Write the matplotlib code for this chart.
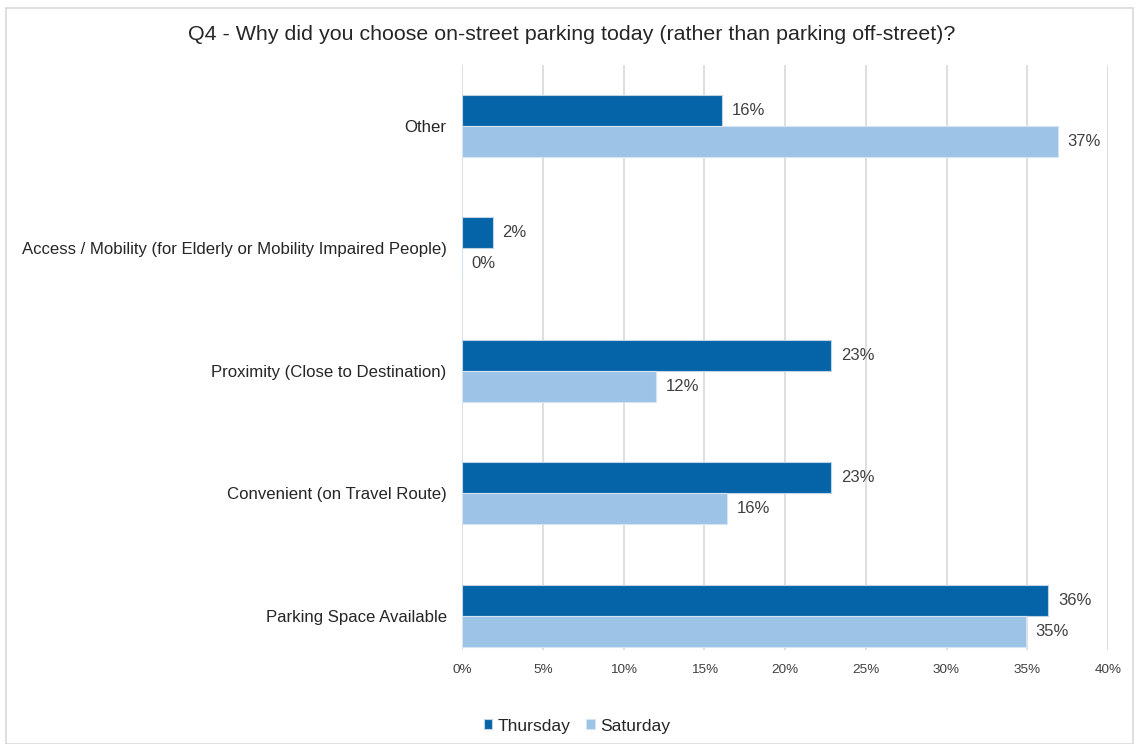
import matplotlib.pyplot as plt
import numpy as np
from matplotlib.patches import Rectangle

plt.rcParams['font.family'] = ['Liberation Sans', 'DejaVu Sans']

categories = ['Parking Space Available', 'Convenient (on Travel Route)',
              'Proximity (Close to Destination)',
              'Access / Mobility (for Elderly or Mobility Impaired People)', 'Other']
thursday = [36.3, 22.85, 22.85, 1.9, 16.1]
saturday = [34.9, 16.4, 12.0, 0.0, 36.9]
thursday_labels = ['36%', '23%', '23%', '2%', '16%']
saturday_labels = ['35%', '16%', '12%', '0%', '37%']
xticks = [0, 5, 10, 15, 20, 25, 30, 35, 40]

fig = plt.figure(figsize=(11.39, 7.44), dpi=100)
ax = fig.add_axes([462 / 1139, 1 - 650 / 744, (1108 - 462) / 1139, (650 - 65) / 744])

# outer frame
fig.patches.append(Rectangle((6 / 1139, 0.0), 1 - 12 / 1139, 1 - 8 / 744,
                             transform=fig.transFigure, fill=False,
                             edgecolor='#d9d9d9', linewidth=1.2))

y = np.arange(len(categories))
h = 0.253
c_thu = '#0563a8'
c_sat = '#9dc3e6'

ax.barh(y + h / 2, thursday, height=h, color=c_thu, edgecolor='#bfd3e6', linewidth=0.8,
        label='Thursday', zorder=3)
ax.barh(y - h / 2, saturday, height=h, color=c_sat, edgecolor='#d5e4f2', linewidth=0.8,
        label='Saturday', zorder=3)

for i in range(len(categories)):
    ax.text(thursday[i] + 0.6, y[i] + h / 2, thursday_labels[i], va='center', ha='left',
            fontsize=12, color='#404040')
    ax.text(saturday[i] + 0.6, y[i] - h / 2, saturday_labels[i], va='center', ha='left',
            fontsize=12, color='#404040')

ax.set_xlim(0, 40)
ax.set_ylim(-0.278, 4.498)
ax.set_xticks(xticks)
ax.set_xticklabels([f'{t}%' for t in xticks], fontsize=9.7, color='#404040')
ax.set_yticks(y)
ax.set_yticklabels(categories, fontsize=12.05, color='#262626')
ax.tick_params(axis='both', length=0)
ax.tick_params(axis='x', pad=10)
ax.tick_params(axis='y', pad=11)
ax.grid(axis='x', color='#d9d9d9', linewidth=1.2, zorder=0)
for s in ax.spines.values():
    s.set_visible(False)

fig.text(572 / 1139, 1 - 34 / 744,
         'Q4 - Why did you choose on-street parking today (rather than parking off-street)?',
         ha='center', va='center', fontsize=15.4, color='#262626')

fig.legend(loc='center', bbox_to_anchor=(577 / 1139, 1 - 726 / 744), ncol=2, frameon=False,
           fontsize=12.6, handlelength=0.5, handleheight=0.5, handletextpad=0.3,
           columnspacing=0.9, labelcolor='#262626')

fig.savefig('out.png', dpi=100)
